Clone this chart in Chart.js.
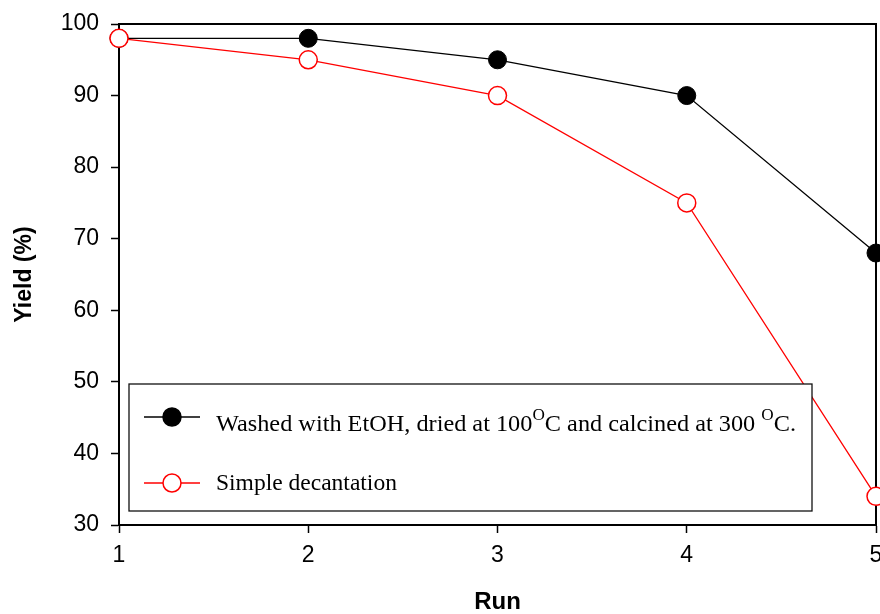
<!DOCTYPE html>
<html>
<head>
<meta charset="utf-8">
<script src="https://cdn.jsdelivr.net/npm/chart.js@4/dist/chart.umd.min.js"></script>
<style>
  html, body { margin: 0; padding: 0; background: #fff; }
  #wrap { width: 880px; height: 614px; }
</style>
</head>
<body>
<div id="wrap"><canvas id="c" width="880" height="614"></canvas></div>
<script>
// ---- data ----
const runs = [1, 2, 3, 4, 5];
const washedYield = [98, 98, 95, 90, 68];
const decantYield = [98, 95, 90, 75, 34];
const yTicks = [30, 40, 50, 60, 70, 80, 90, 100];
const xTitle = 'Run';
const yTitle = 'Yield (%)';
const legendWashed = [
  { t: 'Washed with EtOH, dried at 100' }, { t: 'O', sup: true },
  { t: 'C and calcined at 300 ' }, { t: 'O', sup: true }, { t: 'C.' }
];
const legendDecant = [{ t: 'Simple decantation' }];

const SANS = 'Arial, "Liberation Sans", sans-serif';
const SERIF = '"Times New Roman", "Liberation Serif", serif';

const frame = {
  id: 'frame',
  beforeDatasetsDraw(chart) {
    const a = chart.chartArea, ctx = chart.ctx;
    ctx.save();
    ctx.strokeStyle = '#000';
    ctx.lineWidth = 2;
    ctx.beginPath();
    ctx.moveTo(a.left, a.top);
    ctx.lineTo(a.right, a.top);
    ctx.lineTo(a.right, a.bottom);
    ctx.stroke();
    ctx.restore();
  }
};

function drawRich(ctx, segs, x, y, targetW) {
  const big = '24px ' + SERIF, small = '17px ' + SERIF;
  let total = 0;
  segs.forEach(s => { ctx.font = s.sup ? small : big; total += ctx.measureText(s.t).width; });
  const sx = targetW ? targetW / total : 0.98;
  ctx.save();
  ctx.translate(x, y);
  ctx.scale(sx, 1);
  let cx = 0;
  segs.forEach(s => {
    ctx.font = s.sup ? small : big;
    ctx.fillText(s.t, cx, s.sup ? -11 : 0);
    cx += ctx.measureText(s.t).width;
  });
  ctx.restore();
}

const legendBox = {
  id: 'legendBox',
  afterDatasetsDraw(chart) {
    const a = chart.chartArea, ctx = chart.ctx;
    const L = a.left + 10, T = a.top + 360, R = a.left + 693, B = a.top + 487;
    ctx.save();
    ctx.fillStyle = '#fff';
    ctx.fillRect(L, T, R - L, B - T);
    ctx.strokeStyle = '#111';
    ctx.lineWidth = 1.3;
    ctx.strokeRect(L, T, R - L, B - T);
    const items = [
      { color: '#000', fill: '#000', y: T + 33, base: T + 47, segs: legendWashed, w: 580 },
      { color: '#ff0000', fill: '#fff', y: T + 99, base: T + 106, segs: legendDecant, w: 0 }
    ];
    items.forEach(it => {
      ctx.strokeStyle = it.color;
      ctx.lineWidth = 1.3;
      ctx.beginPath();
      ctx.moveTo(L + 15, it.y);
      ctx.lineTo(L + 71, it.y);
      ctx.stroke();
      ctx.beginPath();
      ctx.arc(L + 43, it.y, 9, 0, Math.PI * 2);
      ctx.fillStyle = it.fill;
      ctx.fill();
      ctx.lineWidth = 1.5;
      ctx.stroke();
      ctx.fillStyle = '#000';
      ctx.textBaseline = 'alphabetic';
      ctx.textAlign = 'left';
      drawRich(ctx, it.segs, L + 87, it.base, it.w);
    });
    ctx.restore();
  }
};

new Chart(document.getElementById('c'), {
  type: 'line',
  data: {
    datasets: [
      {
        label: 'Washed with EtOH, dried at 100 °C and calcined at 300 °C.',
        data: runs.map((r, i) => ({ x: r, y: washedYield[i] })),
        borderColor: '#000', backgroundColor: '#000',
        borderWidth: 1.3, pointRadius: 9, pointBorderWidth: 1,
        pointBackgroundColor: '#000', pointBorderColor: '#000',
        tension: 0, clip: false, order: 2
      },
      {
        label: 'Simple decantation',
        data: runs.map((r, i) => ({ x: r, y: decantYield[i] })),
        borderColor: '#ff0000', backgroundColor: '#fff',
        borderWidth: 1.3, pointRadius: 9, pointBorderWidth: 1.5,
        pointBackgroundColor: '#fff', pointBorderColor: '#ff0000',
        tension: 0, clip: false, order: 1
      }
    ]
  },
  options: {
    responsive: false,
    animation: false,
    layout: { autoPadding: false, padding: { top: 24, right: 4, left: 0, bottom: 0 } },
    plugins: { legend: { display: false }, tooltip: { enabled: false } },
    scales: {
      x: {
        type: 'linear', min: 1, max: 5,
        afterFit(s) { s.height = 89; s.paddingLeft = 0; s.paddingRight = 0; },
        border: { color: '#000', width: 2 },
        grid: { drawOnChartArea: false, drawTicks: true, tickLength: 8, tickColor: '#000', tickWidth: 1.5 },
        ticks: { stepSize: 1, color: '#000', padding: 9, font: { family: SANS, size: 23 } },
        title: { display: true, text: xTitle, color: '#000', padding: { top: 0, bottom: 0 },
                 font: { family: SANS, size: 24, weight: 'bold', lineHeight: 1 } }
      },
      y: {
        min: 30, max: 100,
        afterFit(s) { s.width = 119; s.paddingTop = 0; s.paddingBottom = 0; },
        afterBuildTicks(s) { s.ticks = yTicks.map(v => ({ value: v })); },
        border: { color: '#000', width: 2 },
        grid: { drawOnChartArea: false, drawTicks: true, tickLength: 8, tickColor: '#000', tickWidth: 1.5 },
        ticks: { color: '#000', padding: 12, font: { family: SANS, size: 23 } },
        title: { display: true, text: yTitle, color: '#000', padding: { top: 13, bottom: 0 },
                 font: { family: SANS, size: 23, weight: 'bold', lineHeight: 1 } }
      }
    }
  },
  plugins: [frame, legendBox]
});
</script>
</body>
</html>
